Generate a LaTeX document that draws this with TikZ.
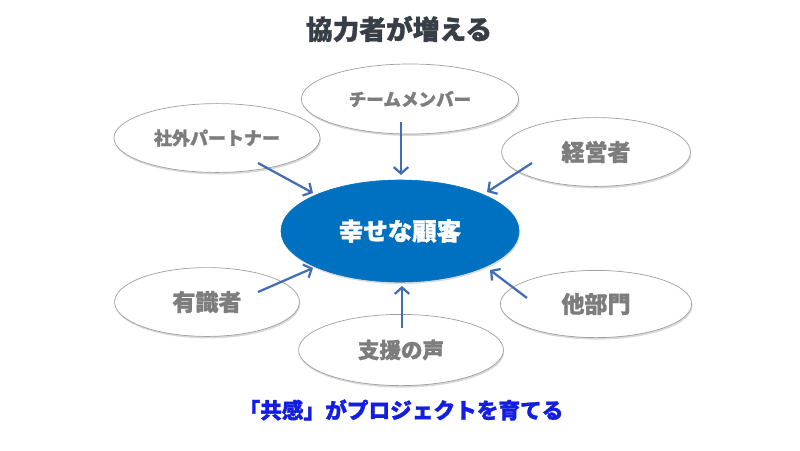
\documentclass[tikz,border=0pt]{standalone}
\usepackage{fontspec}
\setmainfont{Noto Sans CJK JP}[BoldFeatures={FakeBold=1.3}]
\usepackage{xcolor}
\definecolor{hubblue}{RGB}{0, 112, 192}
\definecolor{feedblue}{RGB}{66, 108, 180}
\definecolor{labelgray}{RGB}{125, 125, 125}
\definecolor{titledark}{RGB}{55, 62, 70}
\definecolor{sloganblue}{RGB}{20, 30, 225}
\usetikzlibrary{
  arrows.meta,
  shapes.geometric,
  shadows
}

\begin{document}
\begin{tikzpicture}[x=0.025cm, y=-0.025cm,
  helper/.style={ellipse, draw=gray!75, line width=0.5pt, fill=white, inner sep=0pt, text=labelgray,
    drop shadow={shadow xshift=0.6pt, shadow yshift=-1.4pt, opacity=0.3}},
  feed/.style={feedblue, line width=1.6pt, -{Straight Barb[length=1.6mm, width=3.6mm]}}]
  \useasboundingbox (0, 0) rectangle (800, 450);

  % title
  \node[font=\fontsize{19}{22}\selectfont\bfseries, text=titledark] (title) at (399, 29) {協力者が増える};

  % the happy customer in the middle
  \node[ellipse, fill=hubblue, draw=hubblue, minimum width=5.95cm, minimum height=2.55cm, inner sep=0pt,
    font=\fontsize{17.4}{20}\selectfont\bfseries, text=white,
    drop shadow={shadow xshift=0.6pt, shadow yshift=-1.4pt, opacity=0.3}] (hub) at (400, 231) {幸せな顧客};

  % the supporters round it
  \node[helper, minimum width=5.43cm, minimum height=1.75cm, font=\fontsize{12.5}{15}\selectfont\bfseries] (team) at (410, 99) {チームメンバー};
  \node[helper, minimum width=5.15cm, minimum height=1.72cm, font=\fontsize{12.8}{15}\selectfont\bfseries] (partner) at (217, 138) {社外パートナー};
  \node[helper, minimum width=4.72cm, minimum height=1.72cm, font=\fontsize{16.4}{19}\selectfont\bfseries] (mgmt) at (596, 152) {経営者};
  \node[helper, minimum width=4.62cm, minimum height=1.72cm, font=\fontsize{16.4}{19}\selectfont\bfseries] (expert) at (207, 302) {有識者};
  \node[helper, minimum width=4.78cm, minimum height=1.68cm, font=\fontsize{16.4}{19}\selectfont\bfseries] (dept) at (596, 304) {他部門};
  \node[helper, minimum width=5.12cm, minimum height=1.78cm, font=\fontsize{15.3}{18}\selectfont\bfseries] (voice) at (401, 350) {支援の声};

  % arrows into the hub
  \draw[feed] ([shift={(41, 25)}]partner.center) -- ([shift={(-87, -38)}]hub.center);
  \draw[feed] ([shift={(-9, 23)}]team.center) -- ([shift={(1, -56)}]hub.center);
  \draw[feed] ([shift={(-64, 11)}]mgmt.center) -- ([shift={(87, -39)}]hub.center);
  \draw[feed] ([shift={(51, -10)}]expert.center) -- ([shift={(-87, 37)}]hub.center);
  \draw[feed] ([shift={(-69, -6)}]dept.center) -- ([shift={(90, 39)}]hub.center);
  \draw[feed] ([shift={(1, -22)}]voice.center) -- ([shift={(2, 55)}]hub.center);

  % slogan at the bottom
  \node[font=\fontsize{15.4}{18}\selectfont\bfseries, text=sloganblue] (slogan) at (401, 410) {「共感」がプロジェクトを育てる};

\end{tikzpicture}
\end{document}
